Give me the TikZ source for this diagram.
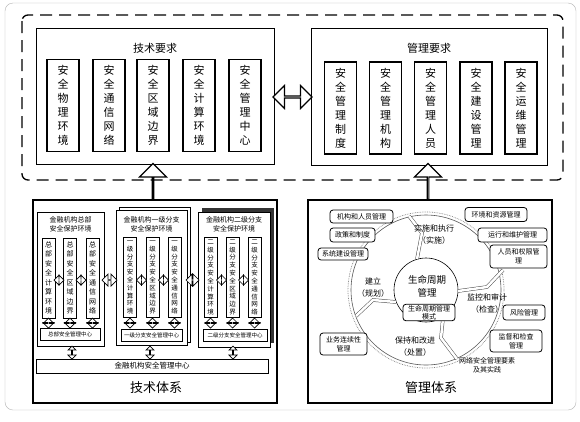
\documentclass[tikz,border=0pt]{standalone}
\usepackage{fontspec}
\setmainfont{Noto Sans CJK SC}
\usetikzlibrary{shapes.arrows}
\XeTeXlinebreaklocale "zh"
\XeTeXlinebreakskip=0pt plus 1pt

\tikzset{
  reqbox/.style={draw, line width=1pt, fill=white, inner sep=0pt},
  reqcol/.style={draw, line width=1.6pt, fill=white, minimum width=32, minimum height=92, text width=11pt, align=center, inner sep=0pt, font=\fontsize{11}{14}\selectfont},
  sysbox/.style={draw, line width=1.8pt, inner sep=0pt},
  envbox/.style={draw, line width=0.8pt, fill=white, inner sep=0pt},
  envcol/.style={draw, line width=0.8pt, fill=white, minimum width=13, minimum height=80, text width=7.5pt, align=center, inner sep=0pt},
  envbar/.style={draw, line width=0.8pt, fill=white, minimum height=12, inner sep=0pt, font=\fontsize{5.5}{6}\selectfont},
  hdbl/.style={double arrow, draw, fill=white, line width=0.7pt, inner sep=0pt, double arrow head extend=2.5pt, minimum width=10, minimum height=10},
  vdbl/.style={hdbl, shape border rotate=90},
  bigarrow/.style={single arrow, draw, fill=white, line width=1.2pt, inner sep=0pt, single arrow head extend=9pt, minimum width=27, minimum height=36, shape border rotate=90},
  mgbox/.style={draw, rounded corners=3pt, fill=white, line width=0.8pt, inner sep=1pt, align=center, font=\fontsize{7}{9}\selectfont},
  phase/.style={align=center, font=\fontsize{8}{12}\selectfont},
}

\begin{document}
\begin{tikzpicture}[x=1pt,y=-1pt]
\useasboundingbox (0,0) rectangle (580,421);
\fill[white] (0,0) rectangle (580,421);

% frames
\draw[gray!60, rounded corners=8pt] (5,3) rectangle (576,410);
\draw[line width=1.3pt, dash pattern=on 12pt off 7pt, rounded corners=6pt] (22,15) rectangle (563,180);

% requirements
\node[reqbox, minimum width=238, minimum height=136] (techreq) at (155,96) {};
\node[font=\fontsize{11}{13}\selectfont] (techreqtitle) at (155,48) {技术要求};
\node[reqcol] (tr1) at (63,105.5) {安全物理环境};
\node[reqcol] (tr2) at (109,105.5) {安全通信网络};
\node[reqcol] (tr3) at (153,105.5) {安全区域边界};
\node[reqcol] (tr4) at (199,105.5) {安全计算环境};
\node[reqcol] (tr5) at (245,105.5) {安全管理中心};

\node[reqbox, minimum width=236, minimum height=137] (mgreq) at (429,96.5) {};
\node[font=\fontsize{11}{13}\selectfont] (mgreqtitle) at (429,48) {管理要求};
\node[reqcol] (mr1) at (340.5,108) {安全管理制度};
\node[reqcol] (mr2) at (385.5,108) {安全管理机构};
\node[reqcol] (mr3) at (430.5,108) {安全管理人员};
\node[reqcol] (mr4) at (476,108) {安全建设管理};
\node[reqcol] (mr5) at (521,108) {安全运维管理};

\node[double arrow, draw, fill=white, line width=1.2pt, inner sep=0pt, double arrow head extend=6.5pt, minimum width=23, minimum height=39] (reqlink) at (292.5,97) {};

% systems
\node[sysbox, minimum width=244, minimum height=203] (techsys) at (155,301.5) {};
\node[sysbox, minimum width=244, minimum height=203] (mgsys) at (430,301.5) {};
\node[bigarrow] (techup) at (153,182) {};
\node[bigarrow] (mgup) at (428,182) {};
\node[font=\fontsize{13}{15}\selectfont] (techsystitle) at (156,388) {技术体系};
\node[font=\fontsize{13}{15}\selectfont] (mgsystitle) at (431,388) {管理体系};

% technical system
\node[envbox, minimum width=67, minimum height=134] (blk1) at (70.5,279) {};
\draw[envbox] (119,207) rectangle (190,342);
\node[envbox, minimum width=71, minimum height=135] (blk2) at (151.5,277.5) {};
\fill[gray!40!black] (202,208) rectangle (274,343);
\node[envbox, minimum width=72, minimum height=135] (blk3) at (234,279.5) {};

\node[align=center, font=\fontsize{7}{9}\selectfont] (blk1title) at (70.5,224) {金融机构总部\\安全保护环境};
\node[align=center, font=\fontsize{7}{9}\selectfont] (blk2title) at (151.5,224) {金融机构一级分支\\安全保护环境};
\node[align=center, font=\fontsize{7}{9}\selectfont] (blk3title) at (234,224) {金融机构二级分支\\安全保护环境};

\node[envcol, font=\fontsize{7}{9.5}\selectfont] (c11) at (48.5,278) {总部安全计算环境};
\node[envcol, font=\fontsize{7}{9.5}\selectfont] (c12) at (70,278) {总部安全区域边界};
\node[envcol, font=\fontsize{7}{9.5}\selectfont] (c13) at (92.5,278) {总部安全通信网络};
\node[envcol, font=\fontsize{6.5}{7.8}\selectfont] (c21) at (130,277.5) {一级分支安全计算环境};
\node[envcol, font=\fontsize{6.5}{7.8}\selectfont] (c22) at (152.5,277.5) {一级分支安全区域边界};
\node[envcol, font=\fontsize{6.5}{7.8}\selectfont] (c23) at (174.5,277.5) {一级分支安全通信网络};
\node[envcol, font=\fontsize{6.5}{7.8}\selectfont] (c31) at (210.5,277.5) {二级分支安全计算环境};
\node[envcol, font=\fontsize{6.5}{7.8}\selectfont] (c32) at (232.5,277.5) {二级分支安全区域边界};
\node[envcol, font=\fontsize{6.5}{7.8}\selectfont] (c33) at (254.5,277.5) {二级分支安全通信网络};

\node[envbar, minimum width=60] (bar1) at (70,334) {总部安全管理中心};
\node[envbar, minimum width=61] (bar2) at (151.5,335) {一级分支安全管理中心};
\node[envbar, minimum width=64] (bar3) at (235,335) {二级分支安全管理中心};

\foreach \x in {59,81,141.5,163.5,221.5,243.5}
  \node[hdbl] at (\x,280) {};
\foreach \x in {48.5,70,92.5,130,152.5,174.5,210.5,232.5,254.5}
  \node[vdbl, minimum width=11] at (\x,323) {};
\node[hdbl, minimum height=15, minimum width=12, double arrow head extend=3pt] (blklink1) at (109.5,280) {};
\node[hdbl, minimum height=13, minimum width=12, double arrow head extend=3pt] (blklink2) at (192.5,280) {};
\foreach \x in {72,150,233}
  \node[vdbl, minimum height=13, minimum width=8, double arrow head extend=2pt] at (\x,352.5) {};

\node[envbar, minimum width=232, minimum height=14, font=\fontsize{7.5}{9}\selectfont] (center) at (152,366) {金融机构安全管理中心};

% management system
\coordinate (C) at (426,290);
\draw[gray!70!black, line width=0.6pt] (C) circle (75pt);
\draw[gray, densely dotted, line width=0.7pt] (C) circle (78pt);
\draw[line width=0.6pt] (C) circle (32pt);
\foreach \a/\b/\c in {{(409,216)}/{(422,233)}/{(417,259)},
                     {(503,270)}/{(487,287)}/{(458,291)},
                     {(457,359)}/{(441,338)}/{(443,318)},
                     {(356,316)}/{(373,300)}/{(396,302)}}
  \draw[gray!60!black, line width=0.5pt, double=white, double distance=2.5pt] \a -- \b -- \c;

\node[font=\fontsize{9.5}{13}\selectfont, align=center] (life) at (427,286) {生命周期\\管理};
\node[mgbox, minimum width=52, minimum height=15, font=\fontsize{7}{8}\selectfont] (lifemode) at (429,312.5) {生命周期管理\\模式};

\node[phase] (ph1) at (434,234) {实施和执行\\（实施）};
\node[phase] (ph2) at (487,303.5) {监控和审计\\（检查）};
\node[phase] (ph3) at (415,346.5) {保持和改进\\（处置）};
\node[phase] (ph4) at (373,287.5) {建立\\（规划）};

\node[mgbox, minimum width=63, minimum height=13] (org) at (361.5,216.5) {机构和人员管理};
\node[mgbox, minimum width=45, minimum height=14] (policy) at (352.5,235) {政策和制度};
\node[mgbox, minimum width=50, minimum height=12] (build) at (343,254) {系统建设管理};
\node[mgbox, minimum width=62, minimum height=14] (envres) at (496,214.5) {环境和资源管理};
\node[mgbox, minimum width=69, minimum height=14] (opmaint) at (512.5,235) {运行和维护管理};
\node[mgbox, minimum width=57, minimum height=23] (perm) at (518.5,256.5) {人员和权限管\\理};
\node[mgbox, minimum width=42, minimum height=15] (risk) at (524,312.5) {风险管理};
\node[mgbox, minimum width=52, minimum height=22] (audit) at (516,341) {监督和检查\\管理};
\node[mgbox, minimum width=47, minimum height=22] (bcm) at (343.5,344) {业务连续性\\管理};
\node[align=center, font=\fontsize{7}{9}\selectfont] (elements) at (487,365) {网络安全管理要素\\及其实践};
\end{tikzpicture}
\end{document}
